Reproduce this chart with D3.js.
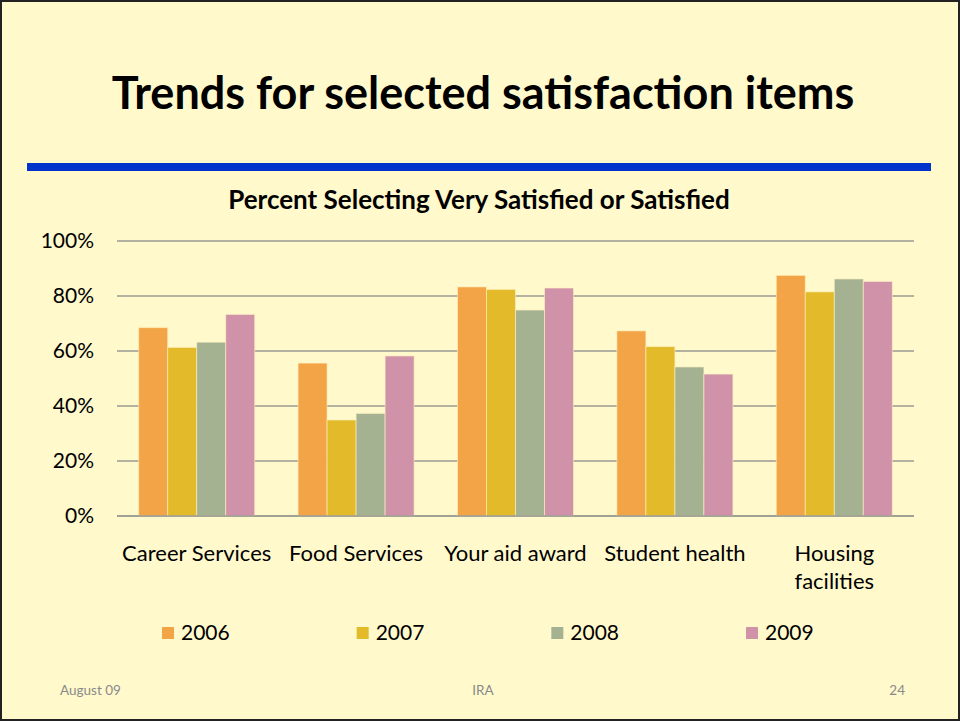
<!DOCTYPE html>
<html>
<head>
<meta charset="utf-8">
<script src="https://cdn.jsdelivr.net/npm/d3@7"></script>
<style>
  body { margin: 0; background: #fff; }
  svg { display: block; }
</style>
</head>
<body>
<script>
// data
var categories = ["Career Services", "Food Services", "Your aid award", "Student health", "Housing facilities"];
var years = ["2006", "2007", "2008", "2009"];
var v2006 = [68.5, 55.6, 83.3, 67.3, 87.5];
var v2007 = [61.3, 34.9, 82.4, 61.6, 81.5];
var v2008 = [63.2, 37.3, 74.9, 54.2, 86.2];
var v2009 = [73.3, 58.2, 82.9, 51.6, 85.3];
var yTicks = [0, 20, 40, 60, 80, 100];
var colors = ["#F2A446", "#E2BA2A", "#A5B292", "#D092A8"];

var series = [v2006, v2007, v2008, v2009];

var W = 960, H = 721;
var font = "Lato, 'Open Sans', sans-serif";

var svg = d3.select("body").append("svg")
    .attr("width", W)
    .attr("height", H);

// slide background + border
svg.append("rect")
    .attr("x", 1).attr("y", 1)
    .attr("width", W - 2).attr("height", H - 2)
    .attr("fill", "#FFF9CC")
    .attr("stroke", "#222")
    .attr("stroke-width", 2);

svg.append("text")
    .attr("x", 483).attr("y", 109)
    .attr("text-anchor", "middle")
    .attr("font-family", font)
    .attr("font-weight", "bold")
    .attr("font-size", 45)
    .attr("fill", "#000")
    .text("Trends for selected satisfaction items");

svg.append("rect")
    .attr("x", 27).attr("y", 163)
    .attr("width", 904).attr("height", 8)
    .attr("fill", "#0033CC");

svg.append("text")
    .attr("x", 479).attr("y", 209)
    .attr("text-anchor", "middle")
    .attr("font-family", font)
    .attr("font-weight", "bold")
    .attr("font-size", 26)
    .text("Percent Selecting Very Satisfied or Satisfied");

var x0 = d3.scaleBand().domain(categories).range([117, 914]).paddingInner(0.272).paddingOuter(0.136);
var x1 = d3.scaleBand().domain(years).range([0, x0.bandwidth()]);
var y = d3.scaleLinear().domain([0, 100]).range([516, 241]);

// grid lines
svg.append("g")
    .selectAll("line")
    .data(yTicks)
    .enter().append("line")
    .attr("x1", 117).attr("x2", 914)
    .attr("y1", function(d) { return y(d); })
    .attr("y2", function(d) { return y(d); })
    .attr("stroke", "#9a9a92")
    .attr("stroke-width", 1.5);

// y axis labels
var yAxis = d3.axisLeft(y)
    .tickValues(yTicks)
    .tickFormat(function(d) { return d + "%"; })
    .tickSize(0)
    .tickPadding(0);

svg.append("g")
    .attr("transform", "translate(94,0)")
    .call(yAxis)
    .call(function(g) { g.select(".domain").remove(); })
    .selectAll("text")
    .attr("font-family", font)
    .attr("font-size", 21)
    .attr("fill", "#000");

// bars
var groups = svg.append("g")
    .selectAll("g")
    .data(categories)
    .enter().append("g")
    .attr("transform", function(d) { return "translate(" + x0(d) + ",0)"; });

groups.selectAll("rect")
    .data(function(d, i) {
        return years.map(function(yr, j) { return { year: yr, value: series[j][i], c: colors[j] }; });
    })
    .enter().append("rect")
    .attr("x", function(d) { return x1(d.year); })
    .attr("y", function(d) { return y(d.value); })
    .attr("width", x1.bandwidth())
    .attr("height", function(d) { return y(0) - y(d.value); })
    .attr("fill", function(d) { return d.c; })
    .attr("stroke", "#FFF4C0")
    .attr("stroke-opacity", 0.6)
    .attr("stroke-width", 1);

// baseline over bars
svg.append("line")
    .attr("x1", 117).attr("x2", 914)
    .attr("y1", y(0)).attr("y2", y(0))
    .attr("stroke", "#9a9a92")
    .attr("stroke-width", 1.5);

// category labels, housing wraps to two lines
var xLab = svg.append("g")
    .selectAll("text")
    .data(categories)
    .enter().append("text")
    .attr("x", function(d) { return x0(d) + x0.bandwidth() / 2; })
    .attr("y", 561)
    .attr("text-anchor", "middle")
    .attr("font-family", font)
    .attr("font-size", 22);

xLab.each(function(d) {
    var lines = d === "Housing facilities" ? ["Housing", "facilities"] : [d];
    var t = d3.select(this);
    lines.forEach(function(l, i) {
        t.append("tspan")
            .attr("x", x0(d) + x0.bandwidth() / 2)
            .attr("dy", i ? 28 : 0)
            .text(l);
    });
});

// legend
var legendX = d3.scalePoint().domain(years).range([162, 746]);
var leg = svg.append("g")
    .selectAll("g")
    .data(years)
    .enter().append("g")
    .attr("transform", function(d) { return "translate(" + legendX(d) + ",627)"; });

leg.append("rect")
    .attr("width", 12).attr("height", 12)
    .attr("fill", function(d, i) { return colors[i]; });

leg.append("text")
    .attr("x", 19).attr("y", 13)
    .attr("font-family", font)
    .attr("font-size", 21)
    .text(function(d) { return d; });

// footer
var foot = [["August 09", 60, "start"], ["IRA", 483, "middle"], ["24", 905, "end"]];
svg.append("g")
    .selectAll("text")
    .data(foot)
    .enter().append("text")
    .attr("x", function(d) { return d[1]; })
    .attr("y", 695)
    .attr("text-anchor", function(d) { return d[2]; })
    .attr("font-family", font)
    .attr("font-size", 13.5)
    .attr("fill", "#8a8a8a")
    .text(function(d) { return d[0]; });
</script>
</body>
</html>
